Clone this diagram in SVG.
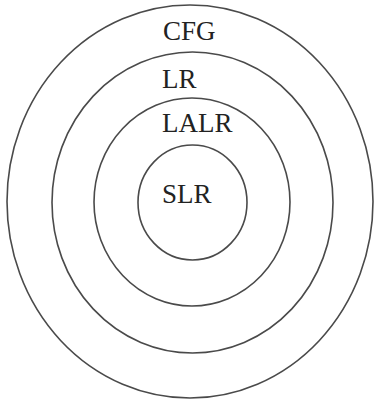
<svg xmlns="http://www.w3.org/2000/svg" width="379" height="404" viewBox="0 0 379 404">
<style>
.e{fill:none;stroke:#4a4a4a;stroke-width:1.6}
.t{font-family:"Liberation Serif",serif;font-size:27px;fill:#222}
</style>
<rect width="379" height="404" fill="#fff"/>
<g id="cfg"><ellipse class="e" cx="190" cy="201.5" rx="183" ry="196.5"/><text class="t" x="163" y="40">CFG</text></g>
<g id="lr"><ellipse class="e" cx="192.5" cy="202.5" rx="140.5" ry="150.5"/><text class="t" x="162" y="88">LR</text></g>
<g id="lalr"><ellipse class="e" cx="192" cy="202" rx="98" ry="104"/><text class="t" x="162" y="132">LALR</text></g>
<g id="slr"><ellipse class="e" cx="192.5" cy="202.5" rx="54.5" ry="57.5"/><text class="t" x="162" y="203">SLR</text></g>
<g id="connectors"></g>
</svg>
